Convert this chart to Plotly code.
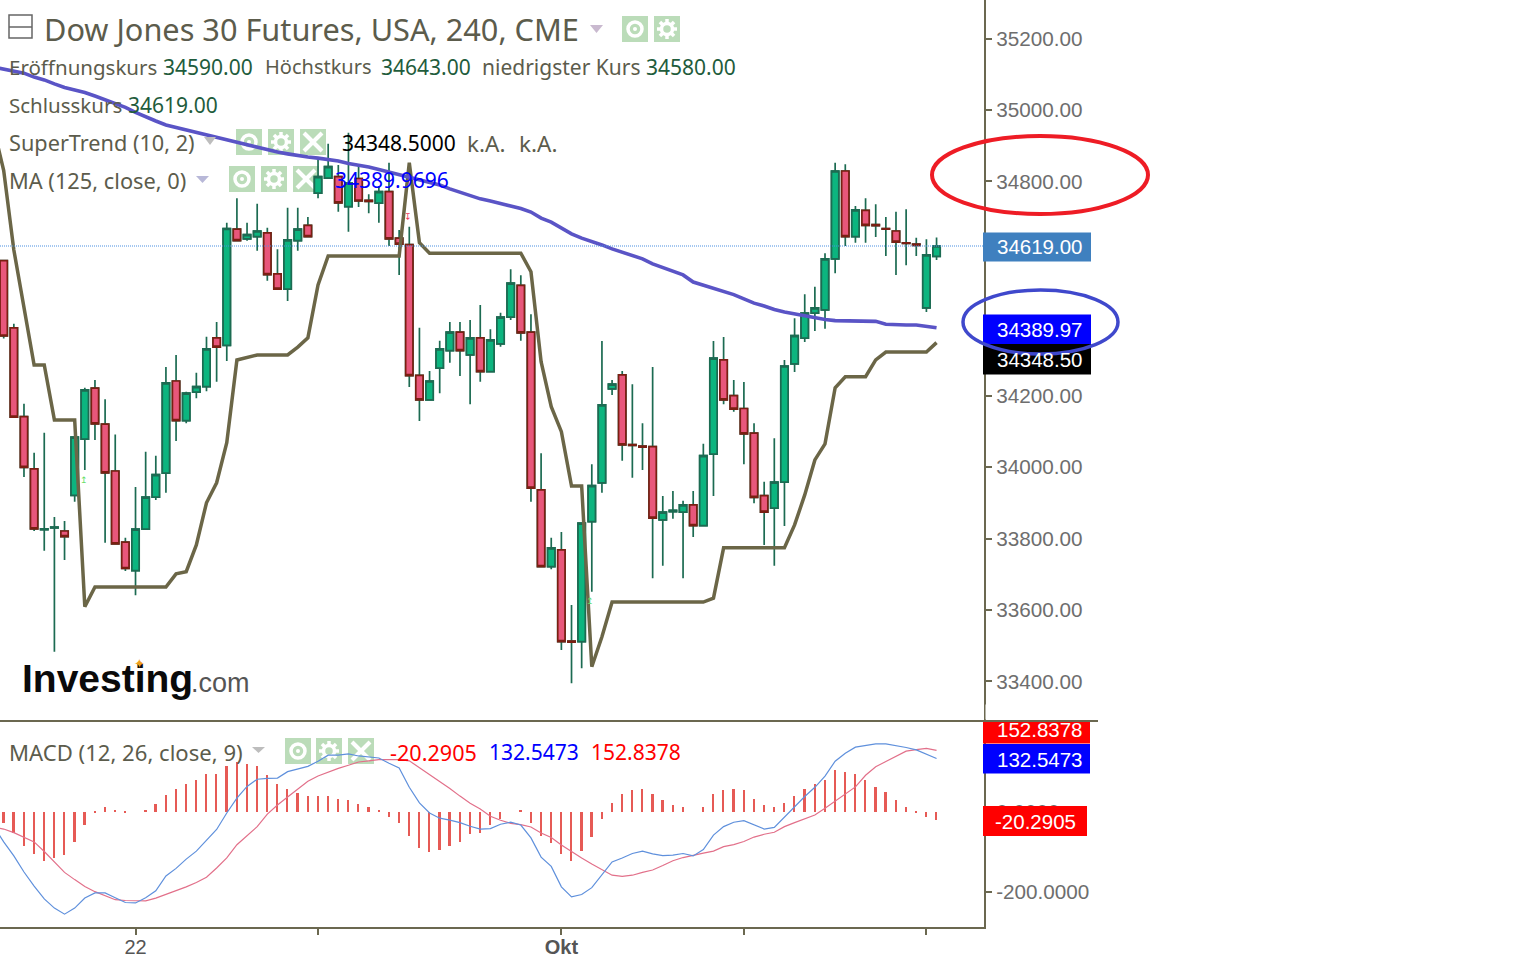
import math
import plotly.graph_objects as go

opens = [34578,34390,34141,33995,33825,33830,33821,33921,34078,34221,34120,33989,33790,33710,33826,33916,33983,34241,34130,34210,34225,34362,34341,34666,34639,34645,34656,34541,34498,34634,34677,34767,34809,34813,34729,34808,34747,34739,34771,34641,34623,34257,34188,34277,34326,34378,34314,34362,34267,34345,34420,34509,34378,33936,33721,33768,33513,33511,33847,33956,34219,34258,34063,34059,34057,33852,33875,33874,33894,33836,34036,34300,34200,34164,34095,33920,33885,33958,34289,34361,34431,34440,34583,34829,34645,34719,34679,34668,34661,34628,34624,34446,34590]
highs = [34578,34401,34177,34040,34096,33860,33849,34084,34222,34244,34190,34091,33802,33944,34043,34032,34280,34314,34211,34264,34365,34406,34684,34753,34684,34737,34670,34610,34726,34726,34700,34862,34905,34846,34936,34846,34764,34787,34852,34664,34673,34390,34269,34354,34406,34406,34412,34454,34386,34432,34554,34537,34428,34039,33802,33818,33614,33843,34008,34353,34244,34269,34232,34123,34280,33919,33933,33906,33933,34065,34353,34364,34244,34238,34123,33959,34081,34300,34417,34484,34505,34599,34852,34848,34731,34753,34736,34700,34715,34722,34642,34638,34643]
lows = [34360,34140,33972,33821,33766,33483,33740,33903,33992,34076,33788,33785,33709,33641,33826,33908,33928,34073,34123,34193,34212,34239,34297,34634,34634,34606,34522,34498,34465,34606,34645,34753,34809,34715,34659,34728,34711,34684,34619,34538,34224,34129,34186,34207,34292,34255,34176,34239,34266,34337,34412,34354,33903,33721,33714,33488,33395,33437,33651,33928,34202,34018,33970,33992,33689,33724,33855,33689,33804,33836,33919,34176,34155,34008,33899,33782,33724,33835,34266,34350,34381,34387,34543,34619,34628,34628,34644,34591,34538,34565,34591,34434,34580]
closes = [34367,34140,33999,33827,33827,33832,33805,34084,34216,34121,33984,33785,33716,33826,33916,33979,34236,34130,34207,34225,34331,34336,34668,34634,34651,34661,34539,34498,34636,34666,34645,34813,34841,34740,34795,34745,34744,34771,34639,34624,34256,34188,34241,34331,34378,34326,34362,34267,34356,34420,34515,34376,33941,33721,33774,33511,33510,33843,33948,34174,34232,34062,34061,34056,33857,33874,33879,33894,33836,34032,34305,34188,34162,34093,33915,33874,33958,34283,34368,34431,34446,34583,34829,34645,34720,34677,34676,34666,34630,34626,34621,34594,34619]

# indicator lines start one bar earlier (that bar lies just left of the visible window)
supertrend = [34950,34830,34608,34440,34286,34286,34132,34132,34132,33609,33664,33664,33664,33664,33664,33664,33664,33664,33701,33707,33782,33900,33956,34068,34300,34306,34314,34314,34314,34314,34336,34362,34510,34591,34591,34591,34591,34591,34591,34591,34591,34852,34628,34599,34599,34599,34599,34599,34599,34599,34599,34599,34599,34547,34295,34169,34099,33947,33947,33441,33525,33622,33622,33622,33622,33622,33622,33622,33622,33622,33622,33633,33774,33774,33774,33774,33774,33774,33774,33838,33922,34020,34065,34222,34253,34253,34253,34300,34322,34322,34322,34322,34322,34348.5]
ma125 = [35120,35115,35110,35103,35092,35084,35073,35063,35056,35049,35039,35028,35018,35007,34993,34980,34969,34958,34951,34944,34937,34930,34923,34916,34909,34902,34895,34888,34882,34877,34872,34868,34865,34861,34857,34850,34846,34840,34833,34826,34818,34812,34805,34798,34790,34779,34769,34759,34751,34745,34738,34731,34724,34714,34697,34686,34669,34653,34641,34632,34622,34611,34601,34591,34583,34569,34558,34548,34538,34518,34509,34499,34492,34483,34471,34459,34451,34441,34434,34429,34423,34417,34413,34410,34409,34409,34409,34408,34400,34398,34398,34398,34394,34389.97]
macd_line = [-35,-75,-110,-150,-185,-217,-240,-255,-240,-215,-202,-202,-214,-226,-227,-214,-197,-160,-141,-118,-98,-70,-44,-3,34,63,81,83,84,100,106,113,126,141,141,144,139,136,134,121,109,61,22,-3,-16,-21,-27,-36,-43,-42,-31,-26,-33,-65,-113,-136,-187,-212,-206,-189,-158,-125,-115,-104,-98,-105,-109,-108,-104,-110,-94,-58,-37,-26,-22,-32,-43,-39,-13,13,38,61,89,126,146,161,165,169,169,165,160,154,144,132.5473]
signal_line = [-38,-43,-52,-63,-75,-99,-124,-151,-169,-186,-199,-210,-219,-221,-222,-222,-215,-206,-197,-187,-176,-163,-140,-115,-82,-59,-37,-6,17,37,57,76,89,99,108,116,124,127,130,130,130,127,110,94,76,58,39,21,7,-11,-21,-29,-32,-38,-53,-64,-83,-100,-115,-130,-145,-158,-161,-158,-151,-145,-134,-122,-114,-108,-103,-98,-87,-82,-74,-63,-56,-51,-37,-27,-17,-8,9,27,43,62,91,112,125,139,151,155,158,152.8378]
macd_hist = [-27,-54,-85,-106,-122,-116,-107,-75,-32,-2,11,5,-2,0,5,19,43,56,70,80,94,94,114,124,118,114,91,70,56,48,39,39,39,33,29,19,11,4,-14,-27,-60,-90,-100,-94,-85,-75,-56,-52,-32,-19,0,4,-27,-60,-79,-106,-122,-98,-64,-19,23,44,54,56,44,29,17,11,0,11,44,54,56,54,33,17,11,23,39,56,68,80,104,99,94,80,62,50,29,11,-4,-14,-20.2905]

bar_index = list(range(len(closes)))
line_index = list(range(-1, len(closes)))
body_top = [max(o, c) for o, c in zip(opens, closes)]
body_bottom = [min(o, c) for o, c in zip(opens, closes)]
price_ticks = [33400,33600,33800,34000,34200,34400,34600,34800,35000,35200]
macd_ticks = [-200,0,200]
macd_tick_labels = ["-200.0000","0.0000","200.0000"]
time_ticks = [13,31,55,73,91]
time_labels = ["22","","<b>Okt</b>","",""]

W, H = 1534, 963
AXIS_X, BOTTOM_Y, SPLIT_Y = 984, 927, 721
OLIVE = "#6b6850"
TXT = "#5c5c4c"
VAL = "#1f5c3c"
UI = "Noto Sans"
ARIAL = "Liberation Sans"
ICON = "#bbdcb9"
WICK = "#1c6b52"

# paper coordinates span the plot area only
px = lambda x: x / AXIS_X
py = lambda y: 1 - y / BOTTOM_Y

ann = []
shp = []

def T(x, y, text, size=21, color=TXT, family=UI, anchor="left"):
    ann.append(dict(xref="paper", yref="paper", x=px(x), y=py(y), text=text, showarrow=False,
                    xanchor=anchor, yanchor="middle", borderpad=0, borderwidth=0,
                    font=dict(size=size, color=color, family=family)))

def R(x0, y0, x1, y1, fill, layer="above"):
    shp.append(dict(type="rect", xref="paper", yref="paper", x0=px(x0), x1=px(x1), y0=py(y0), y1=py(y1),
                    fillcolor=fill, line=dict(width=0), layer=layer))

def L(x0, y0, x1, y1, color, width, layer="above"):
    shp.append(dict(type="line", xref="paper", yref="paper", x0=px(x0), x1=px(x1), y0=py(y0), y1=py(y1),
                    line=dict(color=color, width=width), layer=layer))

def C(x0, y0, x1, y1, color, width, fill="rgba(0,0,0,0)", layer="above"):
    shp.append(dict(type="circle", xref="paper", yref="paper", x0=px(x0), x1=px(x1), y0=py(y0), y1=py(y1),
                    line=dict(color=color, width=width), fillcolor=fill, layer=layer))

def TRI(x0, x1, y0, y1, fill):
    shp.append(dict(type="path", xref="paper", yref="paper", fillcolor=fill, line=dict(width=0), layer="above",
                    path=f"M {px(x0)} {py(y0)} L {px(x1)} {py(y0)} L {px((x0 + x1) / 2)} {py(y1)} Z"))

def eye(x, y):
    R(x, y, x + 26, y + 26, ICON, "below")
    cx, cy = x + 13, y + 13
    C(cx - 7, cy - 7, cx + 7, cy + 7, "white", 3.5, layer="below")
    C(cx - 2, cy - 2, cx + 2, cy + 2, "white", 0, "white", "below")

def gear(x, y):
    R(x, y, x + 26, y + 26, ICON, "below")
    cx, cy = x + 13, y + 13
    for k in range(8):
        a = k * math.pi / 4
        L(cx + 5 * math.cos(a), cy + 5 * math.sin(a), cx + 10 * math.cos(a), cy + 10 * math.sin(a), "white", 3.5, "below")
    C(cx - 5.5, cy - 5.5, cx + 5.5, cy + 5.5, "white", 3.5, layer="below")

def cross(x, y):
    R(x, y, x + 26, y + 26, ICON, "below")
    L(x + 4, y + 4, x + 22, y + 22, "white", 4, "below")
    L(x + 22, y + 4, x + 4, y + 22, "white", 4, "below")

# header
shp.append(dict(type="rect", xref="paper", yref="paper", x0=px(9), x1=px(32), y0=py(38), y1=py(15),
                line=dict(color="#666", width=1.5), fillcolor="white"))
L(9, 27, 32, 27, "#666", 1.5)
T(44, 29, "Dow Jones 30 Futures, USA, 240, CME", 30.7)
TRI(590, 603, 25, 33, "#c9b9cf")
eye(622, 16); gear(654, 16)

T(9, 67, "Eröffnungskurs", 20.5); T(163, 67, "34590.00", color=VAL)
T(265, 67, "Höchstkurs", 20); T(381, 67, "34643.00", color=VAL)
T(482, 67, "niedrigster Kurs"); T(646, 67, "34580.00", color=VAL)
T(9, 105, "Schlusskurs", 20.5); T(128, 105, "34619.00", color=VAL)
T(9, 142, "SuperTrend (10, 2)", 21.7); TRI(204, 216, 137, 145, "#bdbdbd")
eye(236, 129); gear(268, 129); cross(300, 129)
T(342, 143, "34348.5000", color="#000000"); T(467, 143, "k.A.", 22.5); T(519, 143, "k.A.", 22.5)
T(9, 180, "MA (125, close, 0)", 21.8); TRI(196, 209, 176, 183, "#b8b8d8")
eye(229, 166); gear(261, 166); cross(293, 166)
T(335, 180, "34389.9696", color="#0000ff")

T(9, 752, "MACD (12, 26, close, 9)", 22.1); TRI(252, 265, 747, 753, "#bdbdbd")
eye(285, 738); gear(316, 738); cross(348, 738)
T(390, 752, "-20.2905", 21.6, "#ff0000"); T(489, 752, "132.5473", color="#0000ff"); T(591, 752, "152.8378", color="#ff0000")

# logo
T(22, 678, "<b>Investing</b>", 39, "#0a0a0a", ARIAL)
T(191, 683, ".com", 27, "#555555", ARIAL)
T(139, 663, "✦", 13, "#f0a020", "DejaVu Sans", "center")

# small signal arrows
T(84, 480, "↥", 9, "#66dd66", "DejaVu Sans", "center")
T(590, 601, "↥", 9, "#66dd66", "DejaVu Sans", "center")
T(408, 217, "↧", 9, "#ee3355", "DejaVu Sans", "center")

# pane separator
L(0, SPLIT_Y, 1098, SPLIT_Y, OLIVE, 2)

# axis value tags
R(983, 232.5, 1091, 261.5, "#3f80bf")
R(983, 344, 1091, 374.5, "#000000")
R(983, 314.5, 1091, 344, "#0000ff")
R(983, 722, 1090, 743.5, "#ff0000")
R(983, 744, 1090, 773.5, "#0000ff")
R(983, 806, 1087, 836, "#ff0000")

# hand-drawn ellipses
C(932, 136, 1148, 214, "#ee1c25", 4)
C(963, 290, 1118, 354, "#3f48cc", 3.5)

for y, s in [(247, "34619.00"), (329.5, "34389.97"), (359.5, "34348.50"), (729.5, "152.8378"), (759, "132.5473")]:
    T(1039.5 if y < 700 else 1040, y, s, 20.5, "white", ARIAL, "center")
T(1035, 821, "-20.2905", 20.5, "white", ARIAL, "center")
# the top tag is cut off by the pane border
ann.append(dict(xref="paper", yref="paper", x=px(985), y=py(720.3), text=" ", showarrow=False, xanchor="left",
                yanchor="bottom", width=112, height=14, bgcolor="white", borderpad=0))

fig = go.Figure()
# wicks are always dark green; bodies are drawn on top with their own colours
fig.add_trace(go.Candlestick(x=bar_index, open=opens, high=highs, low=lows, close=closes,
    increasing=dict(fillcolor="#0cb57f", line=dict(color=WICK, width=1.7)),
    decreasing=dict(fillcolor="#e8577b", line=dict(color=WICK, width=1.7)),
    hoverinfo="skip", showlegend=False, xaxis="x", yaxis="y"))
fig.add_trace(go.Candlestick(x=bar_index, open=opens, high=body_top, low=body_bottom, close=closes,
    increasing=dict(fillcolor="#0cb57f", line=dict(color=WICK, width=1.7)),
    decreasing=dict(fillcolor="#e8577b", line=dict(color="#7a1f12", width=1.7)),
    hoverinfo="skip", showlegend=False, xaxis="x", yaxis="y"))
fig.add_trace(go.Scatter(x=line_index, y=supertrend, mode="lines", line=dict(color="#6b6647", width=3.5), hoverinfo="skip", showlegend=False, xaxis="x", yaxis="y"))
fig.add_trace(go.Scatter(x=line_index, y=ma125, mode="lines", line=dict(color="#5a54c6", width=3.6), hoverinfo="skip", showlegend=False, xaxis="x", yaxis="y"))
fig.add_trace(go.Bar(x=bar_index, y=macd_hist, width=0.17, marker=dict(color="#e65a55", line=dict(width=0)), hoverinfo="skip", showlegend=False, xaxis="x", yaxis="y2"))
fig.add_trace(go.Scatter(x=line_index, y=signal_line, mode="lines", line=dict(color="#e2708a", width=1.2), hoverinfo="skip", showlegend=False, xaxis="x", yaxis="y2"))
fig.add_trace(go.Scatter(x=line_index, y=macd_line, mode="lines", line=dict(color="#5f90dc", width=1.2), hoverinfo="skip", showlegend=False, xaxis="x", yaxis="y2"))

# last price line
shp.append(dict(type="line", xref="paper", yref="y", x0=0, x1=px(AXIS_X), y0=closes[-1], y1=closes[-1],
                line=dict(color="#4a90e2", width=1.2, dash="1px,1px"), layer="above"))

tick_font = dict(size=20.7, color="#6e6e6e", family=ARIAL)
fig.update_layout(
    width=W, height=H, autosize=False, paper_bgcolor="white", plot_bgcolor="white",
    margin=dict(l=0, r=W - AXIS_X, t=0, b=H - BOTTOM_Y, pad=0, autoexpand=False), showlegend=False, hovermode=False,
    bargap=0, boxgap=0.28, boxgroupgap=0, boxmode="overlay", shapes=shp, annotations=ann,
    xaxis=dict(domain=[0, 1], anchor="y2", range=[-0.365, 96.68], tickmode="array", tickvals=time_ticks, ticktext=time_labels,
               ticks="outside", ticklen=6, tickcolor=OLIVE, tickwidth=1.5, ticklabelstandoff=-5, showgrid=False, zeroline=False, showline=True,
               linecolor=OLIVE, linewidth=2, rangeslider=dict(visible=False), tickfont=dict(size=20, color="#555555", family=ARIAL)),
    yaxis=dict(domain=[(BOTTOM_Y - SPLIT_Y) / BOTTOM_Y, 1], anchor="x", side="right", range=[33289, 35307.8],
               tickmode="array", tickvals=price_ticks, tickformat=".2f", ticks="outside", ticklen=6, tickcolor=OLIVE, tickwidth=1.5,
               ticklabelstandoff=0, showgrid=False, zeroline=False, showline=True, linecolor=OLIVE, linewidth=2, tickfont=tick_font),
    yaxis2=dict(domain=[0, (BOTTOM_Y - SPLIT_Y - 1) / BOTTOM_Y], anchor="x", side="right", range=[-287, 223.6],
                tickmode="array", tickvals=macd_ticks, ticktext=macd_tick_labels, ticks="outside", ticklen=6, tickcolor=OLIVE, tickwidth=1.5,
                ticklabelstandoff=0, showgrid=False, zeroline=False, showline=True, linecolor=OLIVE, linewidth=2, tickfont=tick_font),
)
fig.write_html("out.html", config=dict(displayModeBar=False),
               post_script="document.body.style.margin='0';document.body.style.overflow='hidden';")
